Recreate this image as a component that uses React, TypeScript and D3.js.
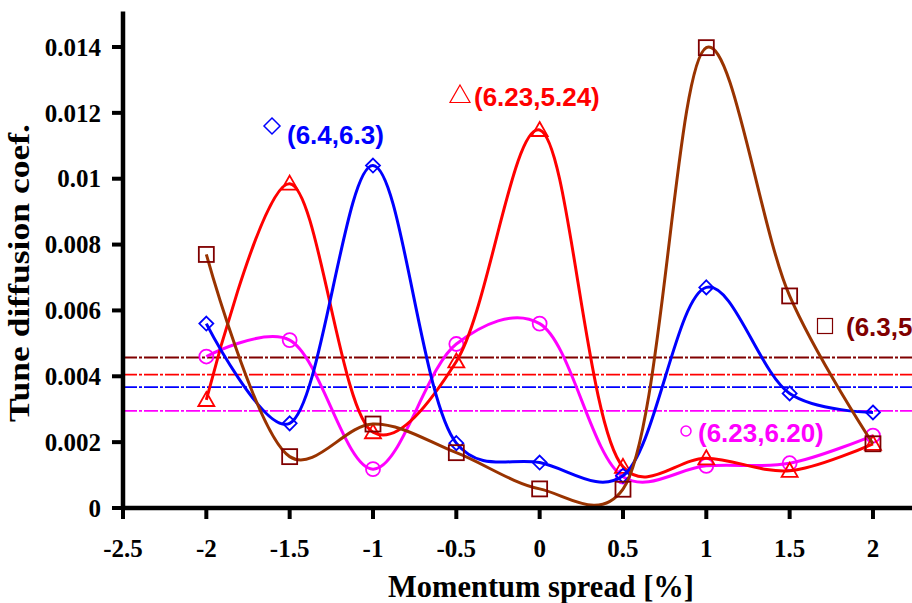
import React from "react";
import * as d3 from "d3";

const momentum = [-2, -1.5, -1, -0.5, 0, 0.5, 1, 1.5, 2];
const xTicks = [-2.5, -2, -1.5, -1, -0.5, 0, 0.5, 1, 1.5, 2];
const yTicks = [0, 0.002, 0.004, 0.006, 0.008, 0.01, 0.012, 0.014];

const seriesNames = ["(6.4,6.3)", "(6.23,5.24)", "(6.23,6.20)", "(6.3,5.3)"];
const blueValues = [0.0056, 0.00257, 0.0104, 0.00197, 0.00138, 0.00098, 0.0067, 0.00348, 0.0029];
const redValues = [0.00328, 0.00985, 0.0023, 0.00445, 0.01148, 0.00125, 0.00151, 0.00113, 0.00195];
const magentaValues = [0.0046, 0.0051, 0.00118, 0.00498, 0.0056, 0.00095, 0.00128, 0.00136, 0.0022];
const brownValues = [0.0077, 0.00156, 0.00255, 0.00168, 0.00058, 0.00057, 0.01398, 0.00644, 0.00195];
const averages = [0.00367, 0.00405, 0.00295, 0.00457];

const W = 912;
const H = 603;

export default function App() {
  const x = d3.scaleLinear().domain([-2.5, 2.5]).range([123, 956.3]);
  const y = d3.scaleLinear().domain([0, 0.014]).range([508, 47]);
  const yTop = 0.01508;

  const line = d3
    .line<[number, number]>()
    .x((d) => x(d[0]))
    .y((d) => y(d[1]))
    .curve(d3.curveCatmullRom.alpha(0.3));

  const series = [
    { name: seriesNames[0], values: blueValues, line: "#0000FF", mark: "#0000FF", shape: "diamond", avg: averages[0], avgColor: "#0000FF" },
    { name: seriesNames[1], values: redValues, line: "#FF0000", mark: "#FF0000", shape: "triangle", avg: averages[1], avgColor: "#FF0000" },
    { name: seriesNames[2], values: magentaValues, line: "#FF00FF", mark: "#FF00FF", shape: "circle", avg: averages[2], avgColor: "#FF00FF" },
    { name: seriesNames[3], values: brownValues, line: "#993300", mark: "#800000", shape: "square", avg: averages[3], avgColor: "#800000" },
  ];

  const labelLayout = [
    { mx: 272, my: 126, tx: 287, ty: 144, color: "#0000FF", ms: 8, sw: 1.5 },
    { mx: 460, my: 95, tx: 474, ty: 106, color: "#FF0000", ms: 10, sw: 1.2 },
    { mx: 686, my: 431, tx: 698, ty: 442, color: "#FF00FF", ms: 5, sw: 1.5 },
    { mx: 825, my: 326, tx: 846, ty: 336, color: "#800000", ms: 7.5, sw: 1.2 },
  ];

  const marker = (shape: string, cx: number, cy: number, s: number, color: string, sw = 1.6, key?: any) => {
    if (shape === "diamond")
      return <path key={key} d={`M${cx},${cy - s}L${cx + s},${cy}L${cx},${cy + s}L${cx - s},${cy}Z`} fill="none" stroke={color} strokeWidth={sw} />;
    if (shape === "triangle")
      return <path key={key} d={`M${cx},${cy - s}L${cx + s * 1.0},${cy + s * 0.75}L${cx - s * 1.0},${cy + s * 0.75}Z`} fill="none" stroke={color} strokeWidth={sw} />;
    if (shape === "circle") return <circle key={key} cx={cx} cy={cy} r={s} fill="none" stroke={color} strokeWidth={sw} />;
    return <rect key={key} x={cx - s} y={cy - s} width={2 * s} height={2 * s} fill="none" stroke={color} strokeWidth={sw} />;
  };

  const markSize: Record<string, number> = { diamond: 7, triangle: 8, circle: 7, square: 7.5 };
  const drawOrder = [2, 1, 0, 3];
  const serif = "'Liberation Serif', 'Times New Roman', serif";
  const sans = "'Liberation Sans', Arial, sans-serif";

  return (
    <svg width={W} height={H} style={{ position: "absolute", left: 0, top: 0, background: "#fff" }}>
      <rect x={0} y={0} width={W} height={H} fill="#fff" />
      {series.map((s, i) => (
        <line key={"avg" + i} x1={x(-2.5)} x2={W} y1={y(s.avg)} y2={y(s.avg)} stroke={s.avgColor} strokeWidth={1.8} strokeDasharray="14,2,3,2" />
      ))}
      {drawOrder.map((i) => {
        const s = series[i];
        const pts = momentum.map((m, k) => [m, s.values[k]] as [number, number]);
        return (
          <g key={"s" + i}>
            <path d={line(pts) || ""} fill="none" stroke={s.line} strokeWidth={3} />
            {pts.map((p, k) => marker(s.shape, x(p[0]), y(p[1]), markSize[s.shape], s.mark, 1.8, k))}
          </g>
        );
      })}
      <line x1={x(-2.5)} x2={x(-2.5)} y1={y(0) + 2} y2={y(yTop)} stroke="#000" strokeWidth={4.5} />
      <line x1={x(-2.5) - 2} x2={W} y1={y(0)} y2={y(0)} stroke="#000" strokeWidth={4.5} />
      {yTicks.map((t) => (
        <g key={"yt" + t}>
          <line x1={x(-2.5) - 11} x2={x(-2.5)} y1={y(t)} y2={y(t)} stroke="#000" strokeWidth={4} />
          <text x={101} y={y(t)} dy="0.35em" textAnchor="end" fontFamily={serif} fontWeight="bold" fontSize={25}>
            {String(t)}
          </text>
        </g>
      ))}
      {xTicks.map((t) => (
        <g key={"xt" + t}>
          <line x1={x(t)} x2={x(t)} y1={y(0)} y2={y(0) + 11} stroke="#000" strokeWidth={4} />
          <text x={x(t)} y={557} textAnchor="middle" fontFamily={serif} fontWeight="bold" fontSize={25}>
            {String(t)}
          </text>
        </g>
      ))}
      <text x={541} y={597} textAnchor="middle" fontFamily={serif} fontWeight="bold" fontSize={31} textLength={306} lengthAdjust="spacingAndGlyphs">
        Momentum spread [%]
      </text>
      <text transform="translate(29,273) rotate(-90)" textAnchor="middle" fontFamily={serif} fontWeight="bold" fontSize={30} textLength={298} lengthAdjust="spacingAndGlyphs">
        Tune diffusion coef.
      </text>
      {series.map((s, i) => {
        const L = labelLayout[i];
        return (
          <g key={"lab" + i}>
            {marker(s.shape, L.mx, L.my, L.ms, L.color, L.sw)}
            <text x={L.tx} y={L.ty} fill={L.color} fontFamily={sans} fontWeight="bold" fontSize={26}>
              {s.name}
            </text>
          </g>
        );
      })}
    </svg>
  );
}
